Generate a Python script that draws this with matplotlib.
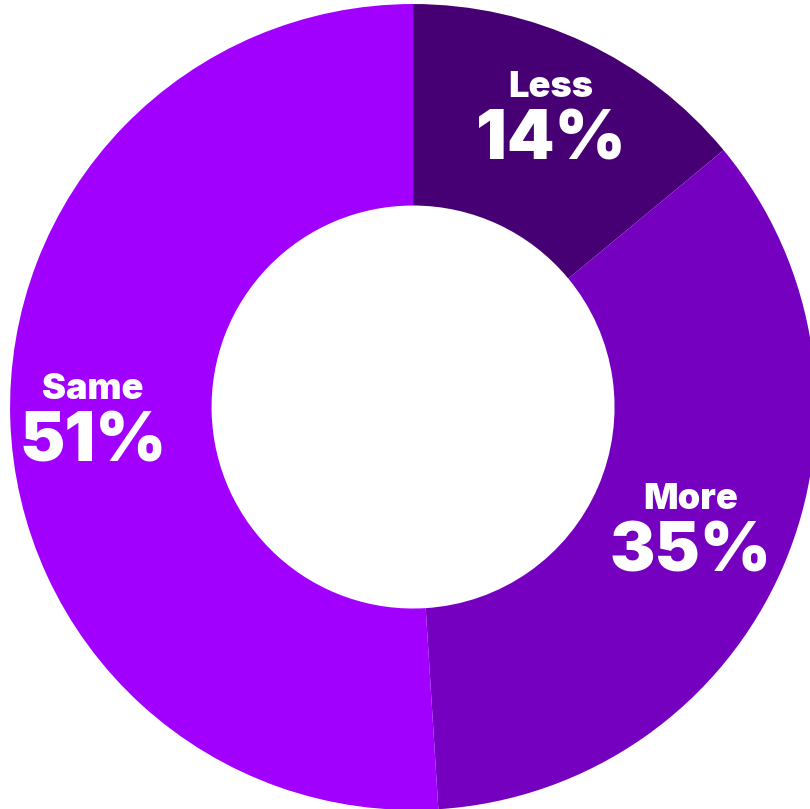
import numpy as np
import matplotlib.pyplot as plt

# --- Share of responses ---
labels = ["Less", "More", "Same"]
shares = [14, 35, 51]
colors = ["#460073", "#7500C0", "#A100FF"]
label_radius = [0.80, 0.75, 0.795]

plt.rcParams['font.family'] = ['Inter', 'DejaVu Sans']

fig = plt.figure(figsize=(8.10, 8.09), dpi=100)
ax = fig.add_axes([0, 0, 1, 1])

wedges, _ = ax.pie(shares, colors=colors, startangle=90, counterclock=False,
                   radius=1.0, wedgeprops=dict(width=0.5, linewidth=0))

# labels sit at the middle angle of each slice
start = 90.0
for lab, val, r in zip(labels, shares, label_radius):
    mid = np.deg2rad(start - val * 360 / 100 / 2)
    start -= val * 360 / 100
    x, y = r * np.cos(mid), r * np.sin(mid)
    ax.text(x, y + 0.068, lab, color="white", fontsize=26, fontweight=900,
            ha="center", va="center")
    ax.text(x, y - 0.065, f"{val}%", color="white", fontsize=49, fontweight=900,
            ha="center", va="center")

ax.set_xlim(-1.025, 0.985)
ax.set_ylim(-0.9975, 1.01)
ax.set_aspect("equal")
ax.axis("off")

fig.savefig("out.png", dpi=100)
